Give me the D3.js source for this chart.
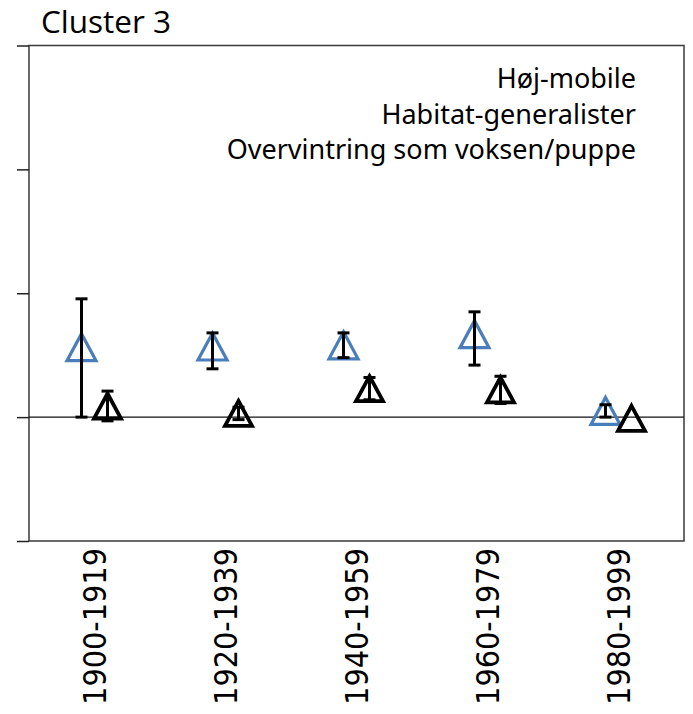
<html>

<head>
    <meta charset="utf-8">
    <title>Cluster 3</title>
</head>
<style>
    body { margin: 0; background: #fff; }
</style>

<body>
    <script src="https://cdn.jsdelivr.net/npm/d3@7"></script>
    <script>
        var width = 693;
        var height = 714;

        // data
        var categories = ["1900-1919", "1920-1939", "1940-1959", "1960-1979", "1980-1999"];
        var blueVals = [0.565, 0.57, 0.58, 0.67, 0.05];
        var blueErrUp = [0.39, 0.11, 0.10, 0.18, 0.05];
        var blueErrDown = [0.565, 0.18, 0.10, 0.25, 0.05];
        var blackVals = [0.09, 0.03, 0.23, 0.22, -0.01];
        var blackErr = [0.12, 0.05, 0.09, 0.11, 0];
        var yTicks = [-1, 0, 1, 2, 3];
        var noteLines = ["Høj-mobile", "Habitat-generalister", "Overvintring som voksen/puppe"];

        // plot-område (navne undgår window.top)
        var pLeft = 29, pRight = 684, pTop = 45.5, pBottom = 541;

        var svg = d3.select("body").append("svg")
            .attr("width", width)
            .attr("height", height);

        var x = d3.scaleBand()
            .domain(categories)
            .range([pLeft, pRight]);

        var y = d3.scaleLinear()
            .domain([-1, 3])
            .range([pBottom, pTop]);

        // titel
        svg.append("text")
            .attr("x", 41)
            .attr("y", 33)
            .attr("font-family", "'Open Sans', sans-serif")
            .attr("font-size", 31.5)
            .attr("fill", "#000")
            .text("Cluster 3");

        // ramme
        svg.append("rect")
            .attr("x", pLeft)
            .attr("y", pTop)
            .attr("width", pRight - pLeft)
            .attr("height", pBottom - pTop)
            .attr("fill", "none")
            .attr("stroke", "#3a3a3a")
            .attr("stroke-width", 1.5);

        // y-akse, kun tick-streger
        var yAxis = svg.append("g")
            .attr("transform", "translate(" + pLeft + ",0)")
            .call(d3.axisLeft(y).tickValues(yTicks).tickSize(12).tickFormat(""));
        yAxis.select(".domain").remove();
        yAxis.selectAll("line").attr("stroke", "#222").attr("stroke-width", 1.5);

        // nul-linje
        svg.append("line")
            .attr("x1", pLeft).attr("x2", pRight)
            .attr("y1", y(0)).attr("y2", y(0))
            .attr("stroke", "#111")
            .attr("stroke-width", 1.3);

        // x-etiketter
        svg.selectAll(".xlab")
            .data(categories)
            .enter()
            .append("text")
            .attr("class", "xlab")
            .attr("transform", function (d) {
                return "translate(" + (x(d) + x.bandwidth() / 2 + 11) + ",548) rotate(-90)";
            })
            .attr("text-anchor", "end")
            .attr("font-family", "'DejaVu Sans Condensed', 'DejaVu Sans', sans-serif")
            .style("font-stretch", "condensed")
            .attr("font-size", 32)
            .attr("fill", "#000")
            .text(function (d) { return d; });

        // tekst øverst til højre
        svg.selectAll(".note")
            .data(noteLines)
            .enter()
            .append("text")
            .attr("class", "note")
            .attr("x", 636)
            .attr("y", function (d, i) { return 88 + i * 35.5; })
            .attr("text-anchor", "end")
            .attr("font-family", "'Noto Sans', sans-serif")
            .attr("font-size", 27)
            .attr("fill", "#000")
            .text(function (d) { return d; });

        function tri(w, h) {
            return "M0," + (-h / 2) + "L" + (w / 2) + "," + (h / 2) + "L" + (-w / 2) + "," + (h / 2) + "Z";
        }

        var off = 13;
        var blueData = categories.map(function (c, i) {
            return { c: c, v: blueVals[i], up: blueErrUp[i], down: blueErrDown[i] };
        });
        var blackData = categories.map(function (c, i) {
            return { c: c, v: blackVals[i], up: blackErr[i], down: blackErr[i] };
        });

        function cx(d, dx) { return x(d.c) + x.bandwidth() / 2 + dx; }

        // markører
        svg.selectAll(".blue")
            .data(blueData)
            .enter()
            .append("path")
            .attr("class", "blue")
            .attr("d", tri(29, 27))
            .attr("transform", function (d) { return "translate(" + cx(d, -off) + "," + y(d.v) + ")"; })
            .attr("fill", "none")
            .attr("stroke", "#4a7ebb")
            .attr("stroke-width", 3.2);

        svg.selectAll(".black")
            .data(blackData)
            .enter()
            .append("path")
            .attr("class", "black")
            .attr("d", tri(27, 25))
            .attr("transform", function (d) { return "translate(" + cx(d, off) + "," + y(d.v) + ")"; })
            .attr("fill", "none")
            .attr("stroke", "#000")
            .attr("stroke-width", 3.8);

        // fejllinjer
        function errBars(data, dx) {
            var g = svg.append("g")
                .attr("stroke", "#000")
                .attr("stroke-width", 3);
            data.filter(function (d) { return d.up > 0 || d.down > 0; }).forEach(function (d) {
                var px = cx(d, dx);
                var y1 = y(d.v + d.up), y2 = y(d.v - d.down);
                g.append("line").attr("x1", px).attr("x2", px).attr("y1", y1).attr("y2", y2);
                g.append("line").attr("x1", px - 6).attr("x2", px + 6).attr("y1", y1).attr("y2", y1);
                g.append("line").attr("x1", px - 6).attr("x2", px + 6).attr("y1", y2).attr("y2", y2);
            });
        }
        errBars(blueData, -off);
        errBars(blackData, off);
    </script>

</body>

</html>
